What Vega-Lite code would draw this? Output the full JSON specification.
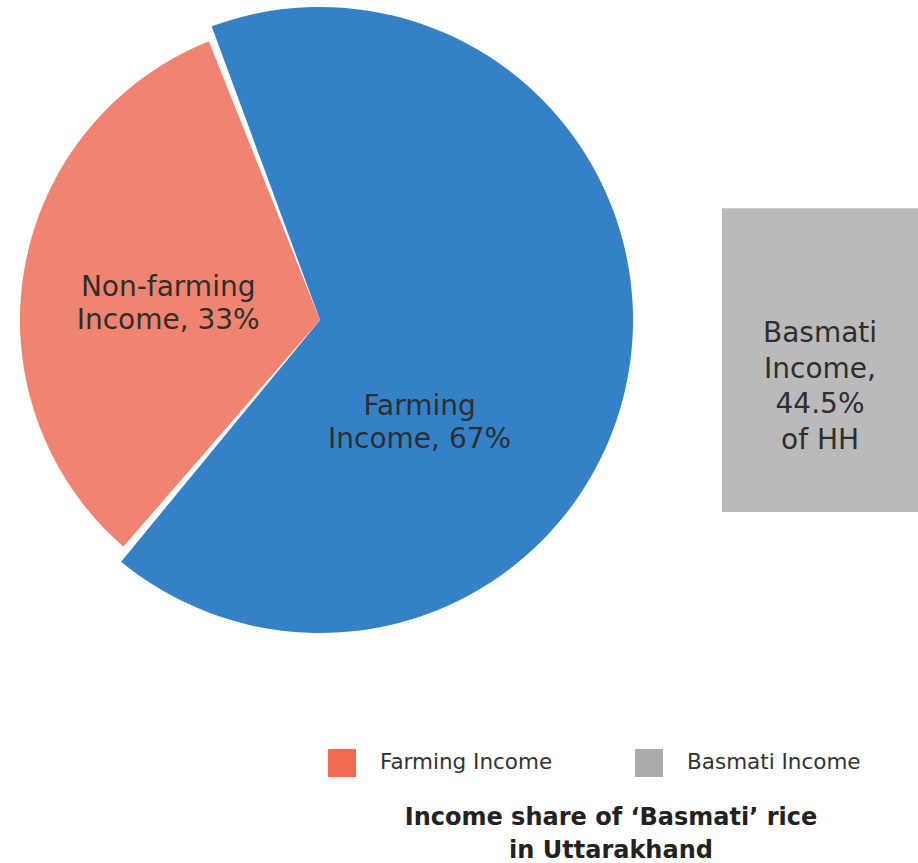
{
  "$schema": "https://vega.github.io/schema/vega-lite/v6.json",
  "padding": 0,
  "background": "white",
  "config": {"view": {"stroke": null}, "font": "DejaVu Sans"},
  "title": {
    "text": ["Income share of ‘Basmati’ rice", "in Uttarakhand"],
    "orient": "bottom",
    "anchor": "middle",
    "fontSize": 24,
    "fontWeight": "bold",
    "color": "#222222",
    "font": "DejaVu Sans",
    "dx": 152,
    "offset": 29,
    "lineHeight": 33
  },
  "spacing": 82,
  "hconcat": [
    {
      "width": 640,
      "height": 640,
      "data": {
        "values": [
          {"category": "Farming Income", "share": 67, "order": 1, "label": ["Farming", "Income, 67%"]},
          {"category": "Non-farming Income", "share": 33, "order": 2, "label": ["Non-farming", "Income, 33%"]}
        ]
      },
      "transform": [
        {"stack": "share", "groupby": [], "sort": [{"field": "order"}], "as": ["s0", "s1"]}
      ],
      "layer": [
        {
          "transform": [{"filter": "datum.category === 'Farming Income'"}],
          "mark": {"type": "arc", "outerRadius": 313, "padAngle": 0.026, "fill": "#3581c8"},
          "encoding": {
            "theta": {"field": "s0", "type": "quantitative", "scale": {"domain": [0, 100], "range": [-0.3665, 5.9167]}},
            "theta2": {"field": "s1"}
          }
        },
        {
          "transform": [{"filter": "datum.category === 'Non-farming Income'"}],
          "mark": {"type": "arc", "outerRadius": 300, "padAngle": 0.026, "fill": "#f08470"},
          "encoding": {
            "theta": {"field": "s0", "type": "quantitative"},
            "theta2": {"field": "s1"}
          }
        },
        {
          "mark": {"type": "text", "radius": 100, "dx": 1, "dy": 78, "fontSize": 28, "color": "#2e2e2e", "lineHeight": 33, "align": "center", "baseline": "alphabetic"},
          "encoding": {
            "theta": {"field": "share", "type": "quantitative", "stack": true},
            "order": {"field": "order", "type": "quantitative"},
            "text": {"condition": {"test": "datum.order === 1", "field": "label"}, "value": ""}
          }
        },
        {
          "mark": {"type": "text", "radius": 154, "dy": 2, "fontSize": 28, "color": "#2e2e2e", "lineHeight": 33, "align": "center", "baseline": "alphabetic"},
          "encoding": {
            "theta": {"field": "share", "type": "quantitative", "stack": true},
            "order": {"field": "order", "type": "quantitative"},
            "text": {"condition": {"test": "datum.order === 2", "field": "label"}, "value": ""}
          }
        }
      ]
    },
    {
      "width": 196,
      "height": 512,
      "data": {
        "values": [
          {"category": "Basmati Income", "share": 44.5, "label": ["Basmati", "Income,", "44.5%", "of HH"]}
        ]
      },
      "layer": [
        {
          "mark": {"type": "bar", "fillOpacity": 0.82},
          "encoding": {
            "x": {"field": "category", "type": "nominal", "axis": null, "scale": {"paddingInner": 0, "paddingOuter": 0}},
            "y": {"field": "share", "type": "quantitative", "axis": null, "scale": {"domain": [0, 75], "nice": false}},
            "color": {
              "field": "category",
              "type": "nominal",
              "scale": {"domain": ["Farming Income", "Basmati Income"], "range": ["#f26c51", "#ababab"]},
              "legend": {
                "orient": "none",
                "legendX": 328,
                "legendY": 749,
                "direction": "horizontal",
                "title": null,
                "symbolType": "square",
                "symbolSize": 784,
                "symbolStrokeWidth": 0,
                "symbolOpacity": 1,
                "labelFontSize": 21.5,
                "labelFont": "DejaVu Sans",
                "labelColor": "#333333",
                "labelOffset": 24,
                "labelLimit": 300,
                "columnPadding": 82
              }
            }
          }
        },
        {
          "mark": {"type": "text", "baseline": "alphabetic", "align": "center", "dy": 134, "fontSize": 28, "color": "#2e2e2e", "lineHeight": 35.5},
          "encoding": {
            "x": {"field": "category", "type": "nominal"},
            "y": {"field": "share", "type": "quantitative"},
            "text": {"field": "label"}
          }
        }
      ]
    }
  ]
}
